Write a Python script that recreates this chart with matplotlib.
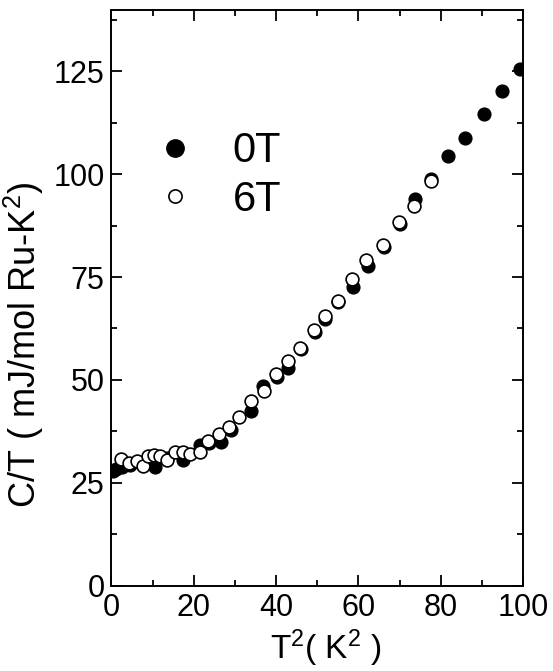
import matplotlib
matplotlib.use("Agg")
import matplotlib.pyplot as plt
from matplotlib.ticker import MultipleLocator
from matplotlib.lines import Line2D

plt.rcParams['font.family'] = ['Liberation Sans', 'DejaVu Sans']
plt.rcParams['mathtext.fontset'] = 'custom'
plt.rcParams['mathtext.rm'] = 'Liberation Sans'
plt.rcParams['mathtext.it'] = 'Liberation Sans'

# 0 T data (T^2, C/T)
t2_0T = [0.3, 1.2, 2.5, 4.5, 10.6, 13.5, 17.4, 21.5, 23.7, 26.5, 29.0, 34.0,
         36.9, 40.1, 42.9, 46.0, 49.4, 51.8, 55.1, 58.7, 62.3, 66.1, 70.0,
         73.8, 77.7, 81.8, 86.0, 90.4, 95.0, 99.2]
ct_0T = [27.8, 28.4, 28.9, 29.3, 28.9, 31.0, 30.5, 34.2, 34.6, 35.0, 37.8, 42.5,
         48.5, 50.7, 53.0, 57.5, 61.7, 64.9, 68.9, 72.6, 77.8, 82.3, 87.8,
         94.0, 98.9, 104.5, 108.8, 114.5, 120.3, 125.6]

# 6 T data
t2_6T = [2.2, 4.3, 6.1, 7.6, 8.9, 10.3, 11.8, 13.4, 15.5, 17.4, 19.1, 21.5,
         23.5, 26.2, 28.6, 31.1, 33.9, 37.0, 39.9, 42.8, 45.9, 49.2, 51.8,
         55.1, 58.5, 61.9, 66.0, 69.9, 73.5, 77.7]
ct_6T = [30.9, 29.7, 30.3, 29.1, 31.5, 31.7, 31.5, 30.5, 32.6, 32.6, 32.0, 32.6,
         35.2, 36.8, 38.6, 41.0, 45.0, 47.4, 51.4, 54.6, 57.8, 62.2, 65.5,
         69.3, 74.6, 79.2, 82.9, 88.3, 92.2, 98.3]

labels = ['0T', '6T']

fig = plt.figure(figsize=(5.53, 6.71), dpi=100)
ax = fig.add_axes([0.2016, 0.1271, 0.9458 - 0.2016, 0.9858 - 0.1271])

ax.plot(t2_0T, ct_0T, 'o', ms=9.2, mfc='black', mec='black', mew=1.0, zorder=2)
ax.plot(t2_6T, ct_6T, 'o', ms=9.2, mfc='white', mec='black', mew=1.2, zorder=3)

ax.set_xlim(0, 100)
ax.set_ylim(0, 140)
ax.xaxis.set_major_locator(MultipleLocator(20))
ax.xaxis.set_minor_locator(MultipleLocator(10))
ax.yaxis.set_major_locator(MultipleLocator(25))
ax.yaxis.set_minor_locator(MultipleLocator(12.5))
ax.tick_params(which='both', direction='in', top=True, right=True, width=1.3,
               labelsize=22, pad=5)
ax.tick_params(which='major', length=8)
ax.tick_params(which='minor', length=4)
for s in ax.spines.values():
    s.set_linewidth(1.4)

ax.set_xlabel('T$^2$( K$^2$ )', fontsize=24)
ax.set_ylabel('C/T ( mJ/mol Ru-K$^2$)', fontsize=26)
ax.xaxis.set_label_coords(0.521, -0.073)
ax.yaxis.set_label_coords(-0.160, 0.418)

handles = [Line2D([], [], ls='none', marker='o', ms=12.5, mfc='black', mec='black'),
           Line2D([], [], ls='none', marker='o', ms=9.5, mfc='white', mec='black', mew=1.2)]
ax.legend(handles, labels, loc='center left', bbox_to_anchor=(0.002, 0.712),
          frameon=False, fontsize=30, handletextpad=0.79, labelspacing=0.2,
          handlelength=1.2)

fig.savefig('out.png', dpi=100)
